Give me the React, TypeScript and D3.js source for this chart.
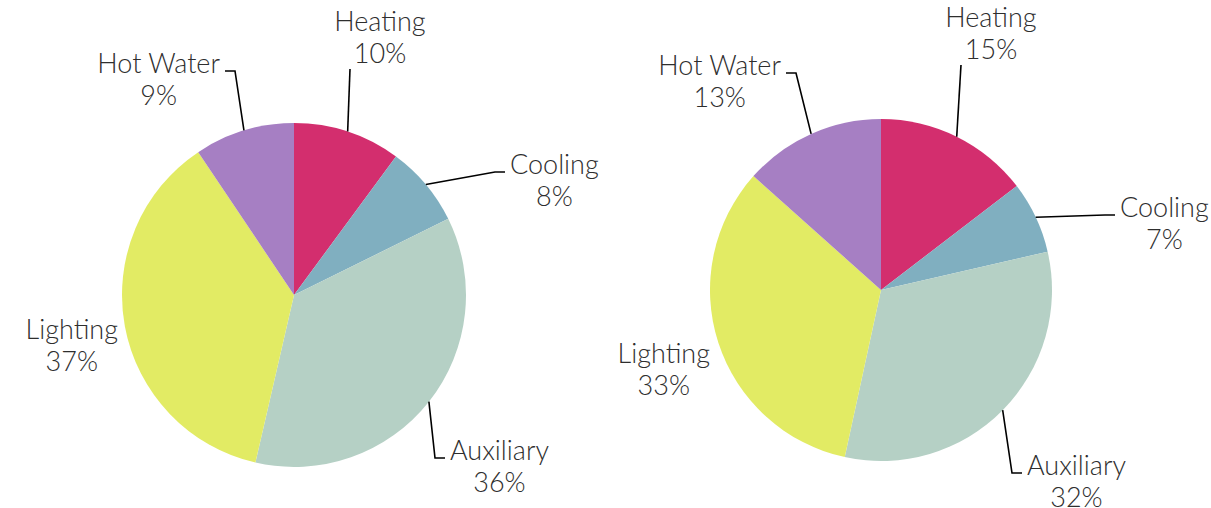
import React, { useRef, useEffect } from 'react';
import * as d3 from 'd3';

const categories = ['Heating', 'Cooling', 'Auxiliary', 'Lighting', 'Hot Water'];
const colors = ['#d32e6e', '#80afc0', '#b5d0c5', '#e2eb64', '#a67fc3'];
const leftValues = [10.1, 7.6, 35.9, 37.0, 9.4];
const rightValues = [14.6, 6.8, 32.0, 33.2, 13.4];
const leftLabels = ['10%', '8%', '36%', '37%', '9%'];
const rightLabels = ['15%', '7%', '32%', '33%', '13%'];

// label placement per slice (offsets from the pie centre)
const leftLayout = [
  { kind: 'top', dx: 56, dy: -226 },
  { kind: 'side', dx: 201, dy: -123 },
  { kind: 'side', dx: 141, dy: 163 },
  { kind: 'free', dx: -176, dy: 44 },
  { kind: 'side', dx: -59, dy: -224 },
];
const rightLayout = [
  { kind: 'top', dx: 80, dy: -225 },
  { kind: 'side', dx: 224, dy: -75 },
  { kind: 'side', dx: 131, dy: 183 },
  { kind: 'free', dx: -171, dy: 73 },
  { kind: 'side', dx: -85, dy: -217 },
];

const pies = [
  { cx: 294, cy: 295, r: 172, values: leftValues, labels: leftLabels, layout: leftLayout },
  { cx: 881, cy: 290, r: 171, values: rightValues, labels: rightLabels, layout: rightLayout },
];

const App = () => {
  const ref = useRef<SVGSVGElement>(null);

  useEffect(() => {
    const root = d3.select(ref.current);
    root.selectAll('*').remove();

    pies.forEach((p) => {
      const g = root.append('g').attr('transform', `translate(${p.cx},${p.cy})`);
      const pie = d3.pie<number>().sort(null).value((d) => d);
      const arcs = pie(p.values);
      const arc = d3.arc<d3.PieArcDatum<number>>().innerRadius(0).outerRadius(p.r);
      const edge = d3.arc<d3.PieArcDatum<number>>().innerRadius(p.r).outerRadius(p.r);

      g.selectAll('path.slice')
        .data(arcs)
        .enter()
        .append('path')
        .attr('class', 'slice')
        .attr('d', arc)
        .attr('fill', (d, i) => colors[i]);

      arcs.forEach((a, i) => {
        const lay = p.layout[i];
        const [sx, sy] = edge.centroid(a);
        const text = g
          .append('text')
          .attr('font-family', 'Lato, sans-serif')
          .attr('font-weight', 300)
          .attr('font-size', 27)
          .attr('fill', '#2e2e2e');
        const t1 = text.append('tspan').text(categories[i]);
        const t2 = text.append('tspan').text(p.labels[i]);
        const w = Math.max(
          (t1.node() as SVGTSpanElement).getComputedTextLength(),
          (t2.node() as SVGTSpanElement).getComputedTextLength()
        );
        let cx = 0;
        let base = 0;
        if (lay.kind === 'top') {
          g.append('path')
            .attr('d', `M${sx},${sy}L${lay.dx},${lay.dy}`)
            .attr('stroke', '#000')
            .attr('stroke-width', 1.6)
            .attr('fill', 'none');
          cx = lay.dx + 30;
          base = lay.dy - 6 - 32;
        } else if (lay.kind === 'side') {
          const right = lay.dx > 0;
          const tail = right ? lay.dx + 10 : lay.dx - 10;
          g.append('path')
            .attr('d', `M${sx},${sy}L${lay.dx},${lay.dy}L${tail},${lay.dy}`)
            .attr('stroke', '#000')
            .attr('stroke-width', 1.6)
            .attr('fill', 'none');
          cx = right ? tail + 5 + w / 2 : tail - 5 - w / 2;
          base = lay.dy + 2;
        } else {
          cx = lay.dx - w / 2;
          base = lay.dy;
        }
        text.attr('text-anchor', 'middle');
        t1.attr('x', cx).attr('y', base);
        t2.attr('x', cx).attr('y', base + 32);
      });
    });
  }, []);

  return (
    <svg
      ref={ref}
      width={1211}
      height={508}
      style={{ position: 'absolute', left: 0, top: 0, background: '#fff' }}
    ></svg>
  );
};

export default App;
